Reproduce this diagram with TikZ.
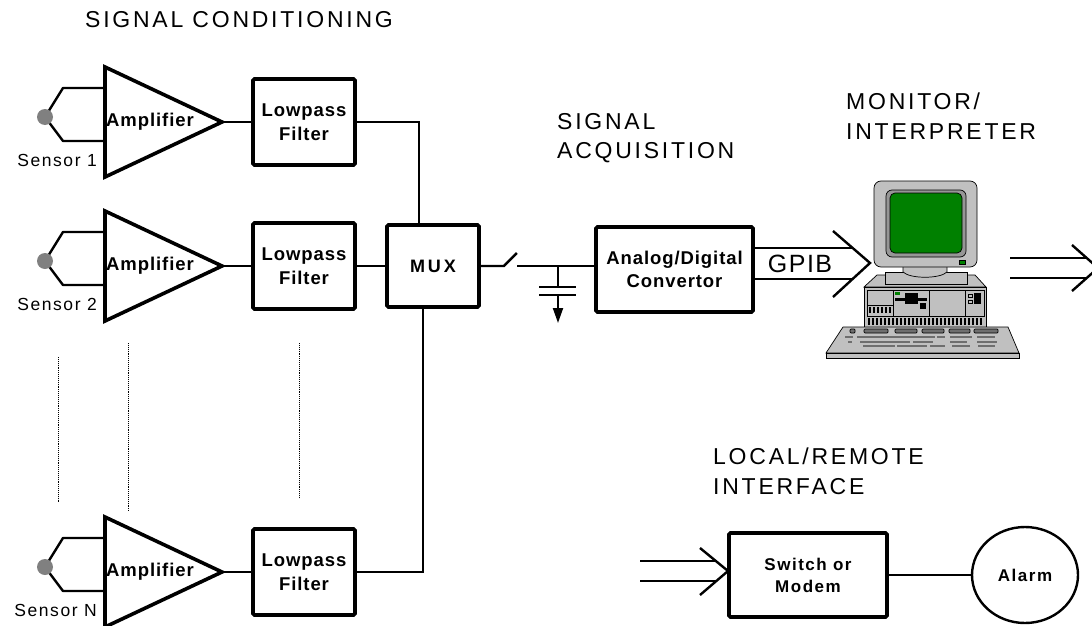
\documentclass[tikz,border=0pt]{standalone}
\usepackage{fontspec}
\setmainfont{Liberation Sans}
\newfontfamily\headfont[LetterSpace=12]{Liberation Sans}
\newfontfamily\boxfont[LetterSpace=5]{Liberation Sans}
\newfontfamily\tagfont[LetterSpace=9]{Liberation Sans}
\newfontfamily\muxfont[LetterSpace=16]{Liberation Sans}
\usetikzlibrary{arrows.meta,positioning,shapes.geometric}
\definecolor{casegray}{RGB}{192,192,192}
\definecolor{bezelgray}{RGB}{150,150,150}
\definecolor{keygray}{RGB}{110,110,110}
\definecolor{crtgreen}{RGB}{0,128,0}
\definecolor{probegray}{RGB}{128,128,128}

\begin{document}
\begin{tikzpicture}[x=1pt,y=-1pt,
  box/.style={draw,line width=3.6pt,rounded corners=1.5pt,inner sep=0pt,align=center,
    font=\boxfont\bfseries\fontsize{18.5}{23.5}\selectfont},
  wire/.style={line width=2.4pt},
  head/.style={anchor=north west,inner sep=0pt,align=left,
    font=\headfont\fontsize{23}{29.5}\selectfont},
  tag/.style={inner sep=0pt,font=\tagfont\fontsize{17.5}{20}\selectfont},
  pcline/.style={line width=0.7pt}]
\useasboundingbox (0,0) rectangle (1092,626);

% headings
\node[head] (hcond) at (85,11) {SIGNAL CONDITIONING};
\node[head] (hacq) at (557,113) {SIGNAL\\ACQUISITION};
\node[head] (hmon) at (846,93) {MONITOR/\\INTERPRETER};
\node[head] (hlink) at (713,448) {LOCAL/REMOTE\\INTERFACE};

% one channel per sensor: probe, amplifier, lowpass filter
\foreach \y/\s/\n in {122/1/a,266/2/b,572/N/c}{
  \draw[wire,line join=round] (105,\y-34) -- (63,\y-34) -- (45,\y-5) -- (63,\y+19) -- (105,\y+19);
  \fill[probegray] (45,\y-5) circle (8);
  \node[tag,anchor=base east] (sen\n) at (97,\y+44) {Sensor \s};
  \draw[line width=3.6pt] (105,\y-55) -- (222,\y) -- (105,\y+55) -- cycle;
  \coordinate (out\n) at (222,\y);
  \node[inner sep=0pt,font=\boxfont\bfseries\fontsize{18.5}{23.5}\selectfont] (amp\n) at (150,\y) {Amplifier};
  \node[box,minimum width=102,minimum height=86] (lpf\n) at (304,\y) {Lowpass\\Filter};
  \draw[wire] (out\n) -- (lpf\n.west);
}
\draw[densely dotted,line width=0.9pt] (58,357) -- (58,502) (128,343) -- (128,512) (299,343) -- (299,498);

% multiplexer
\node[box,font=\muxfont\bfseries\fontsize{18}{22}\selectfont,minimum width=92,minimum height=82] (mux) at (433,266) {MUX};
\draw[wire] (lpfa.east) -| ([xshift=-14pt]mux.north);
\draw[wire] (lpfb.east) -- (mux.west);
\draw[wire] (lpfc.east) -| ([xshift=-10pt]mux.south);

% sample switch, hold capacitor, converter
\node[box,minimum width=157,minimum height=85] (adc) at (674.5,269.5) {Analog/Digital\\Convertor};
\draw[wire] (mux.east) -- ++(23,0) coordinate (swhinge) -- ++(13,-13) coordinate (swblade);
\coordinate (swcontact) at (517,266);
\draw[wire] (swcontact) -- (swcontact -| adc.west);
\draw[wire] (558,266) coordinate (captop) -- (558,287);
\draw[wire] (539,287) -- (576,287) (539,295) -- (576,295);
\draw[line width=2pt,-{Triangle[length=15pt,width=10pt]}] (558,295) -- (558,323);

% GPIB bus into the computer
\coordinate (pcin) at (870,263);
\draw[wire] (adc.east |- 0,248) -- (853,248) (adc.east |- 0,279) -- (852,279);
\draw[wire] (833,231) -- (pcin) -- (833,297);
\node[inner sep=0pt,font=\fontsize{25}{30}\selectfont\addfontfeature{LetterSpace=6}] (gpib) at (800,264) {GPIB};

% computer: system unit
\begin{scope}[pcline]
\filldraw[fill=casegray] (864,287) -- (877,275) -- (975,275) -- (986,287) -- cycle;
\filldraw[fill=casegray] (864,287) rectangle (986,327);
\draw (867,290) rectangle (984,316);
\draw (893,290) -- (893,316) (929,290) -- (929,316) (965,290) -- (965,316);
\draw (867,305) -- (893,305);
\foreach \i in {0,...,5} \fill (869+\i*4,307) rectangle ++(2,6);
\fill (895,298) rectangle (927,301);
\fill (905,293) rectangle (918,304);
\fill (920,303) rectangle (926,309);
\fill[crtgreen] (895,292) rectangle (900,295);
\draw (968,294) rectangle (972,297) (968,300) rectangle (972,303);
\fill (974,293) rectangle (981,304);
\foreach \i in {0,...,28} \fill (868+\i*4,318) rectangle ++(2,7);
% stand and monitor
\filldraw[fill=casegray] (885,272) rectangle (967,284);
\filldraw[fill=casegray] (903,265) -- (947,265) -- (947,272) .. controls (940,279) and (910,279) .. (903,272) -- cycle;
\filldraw[fill=casegray,rounded corners=7pt] (874,181) rectangle (977,267);
\filldraw[fill=bezelgray,rounded corners=6pt] (886,190) rectangle (966,257);
\filldraw[fill=crtgreen,rounded corners=5pt] (890,193) rectangle (962,253);
\filldraw[fill=crtgreen] (959,260) rectangle (965,264);
% keyboard
\filldraw[fill=casegray] (843,327) -- (1008,327) -- (1019,353) -- (826,353) -- cycle;
\filldraw[fill=casegray] (826,353) rectangle (1019,358);
\foreach \a/\b in {850/855,864/888,895/917,922/944,949/970,974/998}
  \filldraw[fill=keygray,rounded corners=1pt] (\a,329) rectangle (\b,333);
\draw[keygray,line width=1.2pt] (845,337) -- (853,337) (857,337) -- (935,337) (937,337) -- (945,337)
  (950,337) -- (972,337) (977,337) -- (995,337)
  (848,342) -- (852,342) (860,342) -- (910,342) (913,342) -- (933,342) (950,342) -- (967,342) (977,342) -- (997,342)
  (863,346) -- (895,346) (897,346) -- (927,346) (930,346) -- (945,346) (952,346) -- (970,346) (978,346) -- (995,346);
\end{scope}

% output to the outside
\draw[wire] (1010,258) -- (1087,258) (1010,278) -- (1087,278);
\draw[wire] (1072,245) -- (1098,268) -- (1072,291);

% local/remote interface
\node[box,font=\tagfont\bfseries\fontsize{17}{22}\selectfont,minimum width=158,minimum height=84] (modem) at (808,575) {Switch or\\Modem};
\node[draw,ellipse,line width=2.4pt,inner sep=0pt,minimum width=106,minimum height=96,
  font=\tagfont\bfseries\fontsize{17}{22}\selectfont] (alarm) at (1025,575) {Alarm};
\draw[wire] (modem) -- (alarm);
\coordinate (lrtip) at (728,571);
\draw[wire] (640,561) -- (716,561) (640,581) -- (716,581);
\draw[wire] (700,548) -- (lrtip) -- (700,595);
\end{tikzpicture}
\end{document}
